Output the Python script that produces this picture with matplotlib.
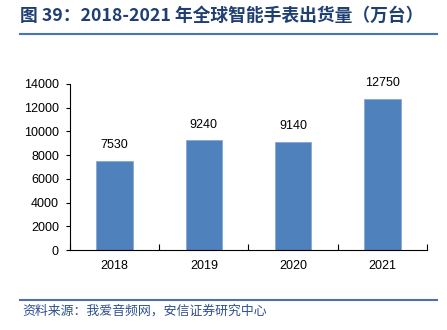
import matplotlib.pyplot as plt
from matplotlib.lines import Line2D

plt.rcParams['font.family'] = ['Liberation Sans', 'Noto Sans CJK SC', 'DejaVu Sans']

years = ['2018', '2019', '2020', '2021']
shipments = [7530, 9240, 9140, 12750]
y_ticks = [0, 2000, 4000, 6000, 8000, 10000, 12000, 14000]

fig = plt.figure(figsize=(4.47, 3.3), dpi=100)
ax = fig.add_axes([0.1566, 0.2424, 0.7984, 0.5031])

bars = ax.bar(range(len(years)), shipments, width=0.41, color='#4F81BD',
              edgecolor='#7FA3D4', linewidth=0.5)
for b, v in zip(bars, shipments):
    ax.annotate(str(v), (b.get_x() + b.get_width() / 2, v), xytext=(0, 7),
                textcoords='offset points', ha='center', va='bottom',
                fontsize=9, color='black')

ax.set_xlim(-0.5, 3.5)
ax.set_ylim(0, 14000)
ax.set_yticks(y_ticks)
ax.set_xticks(range(len(years)))
ax.set_xticklabels(years)
ax.set_xticks([-0.5, 0.5, 1.5, 2.5, 3.5], minor=True)
ax.tick_params(axis='y', direction='out', length=3, labelsize=9, width=0.8, pad=5)
ax.tick_params(axis='x', which='major', length=0, labelsize=9, pad=7)
ax.tick_params(axis='x', which='minor', direction='in', length=4, width=0.8)
ax.spines['top'].set_visible(False)
ax.spines['right'].set_visible(False)
for s in ('left', 'bottom'):
    ax.spines[s].set_color('black')
    ax.spines[s].set_linewidth(0.8)

# title and source
fig.text(0.045, 0.952, '图 39：2018-2021 年全球智能手表出货量（万台）',
         fontsize=12.8, fontweight='bold', color='#1F3F73', ha='left', va='center',
         family=['Noto Sans CJK SC', 'DejaVu Sans'])
fig.add_artist(Line2D([0.045, 0.978], [0.897, 0.897], color='#4472C4', lw=1.5))
fig.add_artist(Line2D([0.045, 0.978], [0.091, 0.091], color='#4F6FAF', lw=1.5))
fig.text(0.05, 0.058, '资料来源：我爱音频网，安信证券研究中心',
         fontsize=9.3, style='italic', color='#2F4F8F', ha='left', va='center',
         family=['Noto Sans CJK SC', 'DejaVu Sans'])

fig.savefig('out.png', dpi=100)
